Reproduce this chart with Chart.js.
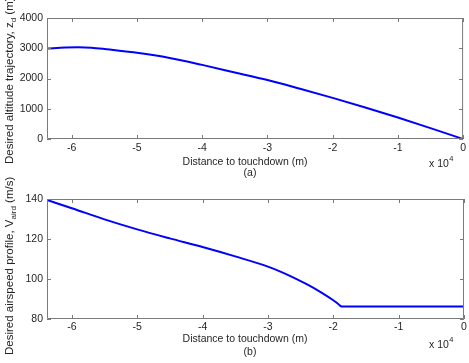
<!DOCTYPE html>
<html>
<head>
<meta charset="utf-8">
<script src="https://cdn.jsdelivr.net/npm/chart.js@4"></script>
<style>
  html, body { margin: 0; padding: 0; background: #fff; }
  #wrap { position: relative; width: 469px; height: 363px; overflow: hidden; }
  canvas { position: absolute; left: 0; }
</style>
</head>
<body>
<div id="wrap">
  <canvas id="c1" width="469" height="181" style="top:0px"></canvas>
  <canvas id="c2" width="469" height="213" style="top:150px"></canvas>
</div>
<script>
// ---- Data ----
// (a) Desired altitude trajectory z_d (m) versus distance to touchdown (m)
const altDistance = [-63800, -61000, -59000, -57000, -55000, -52000, -50000, -45000, -40000, -35000, -30000, -25000, -20000, -15000, -10000, -5000, 0];
const altitude    = [2990, 3025, 3030, 3015, 2975, 2900, 2850, 2680, 2450, 2200, 1950, 1660, 1360, 1040, 710, 360, 0];

// (b) Desired airspeed profile V_aird (m/s) versus distance to touchdown (m)
const spdDistance = [-63800, -60000, -55000, -50000, -45000, -40000, -35000, -30000, -28000, -26000, -24000, -22000, -20000, -19200, -18700, -10000, 0];
const airspeed    = [139.5, 135.4, 129.8, 124.8, 120.3, 116.0, 111.3, 106.2, 103.6, 100.6, 97.3, 93.6, 89.4, 87.4, 86.2, 86.2, 86.2];

// Tick labels
const xTicks = [-60000, -50000, -40000, -30000, -20000, -10000, 0];
const altTicks = [0, 1000, 2000, 3000, 4000];
const spdTicks = [80, 100, 120, 140];

const xTitle = 'Distance to touchdown (m)';
const xExponentBase = 'x 10';
const xExponent = '4';

const FONT = '"Liberation Sans", Arial, Helvetica, sans-serif';
const TXT = '#262626';
const AXC = '#7a7a7a';

function framePlugin(o) {
  return {
    id: 'frame' + o.id,
    afterDraw(chart) {
      const ctx = chart.ctx;
      const a = chart.chartArea;
      const xs = chart.scales.x, ys = chart.scales.y;
      ctx.save();
      // box
      ctx.strokeStyle = AXC;
      ctx.lineWidth = 1;
      ctx.beginPath();
      ctx.rect(a.left + 0.5, a.top + 0.5, a.right - a.left - 1, a.bottom - a.top - 1);
      ctx.stroke();
      // inward ticks on all sides
      const TL = 4;
      ctx.beginPath();
      xs.ticks.forEach(t => {
        const px = Math.round(xs.getPixelForValue(t.value)) + 0.5;
        ctx.moveTo(px, a.bottom); ctx.lineTo(px, a.bottom - TL);
        ctx.moveTo(px, a.top); ctx.lineTo(px, a.top + TL);
      });
      ys.ticks.forEach(t => {
        const py = Math.round(ys.getPixelForValue(t.value)) + 0.5;
        ctx.moveTo(a.left, py); ctx.lineTo(a.left + TL, py);
        ctx.moveTo(a.right, py); ctx.lineTo(a.right - TL, py);
      });
      ctx.stroke();

      // x title and caption
      ctx.fillStyle = TXT;
      ctx.textBaseline = 'middle';
      ctx.textAlign = 'center';
      ctx.font = '10.5px ' + FONT;
      ctx.fillText(xTitle, 245, o.titleY);
      ctx.fillText(o.caption, 250, o.captionY);

      // x 10^4
      ctx.textAlign = 'left';
      ctx.fillText(xExponentBase, 429, o.expY);
      const w = ctx.measureText(xExponentBase).width;
      ctx.font = '7.5px ' + FONT;
      ctx.fillText(xExponent, 429 + w + 0.5, o.expY - 5);

      // y title with subscript (rotated)
      ctx.save();
      ctx.translate(o.yTitleX, o.yTitleStart);
      ctx.rotate(-Math.PI / 2);
      ctx.textBaseline = 'alphabetic';
      ctx.textAlign = 'left';
      let x = 0;
      ctx.font = '11.5px ' + FONT;
      ctx.fillText(o.yMain, x, 0);
      x += ctx.measureText(o.yMain).width;
      ctx.font = '8px ' + FONT;
      ctx.fillText(o.ySub, x, 3);
      x += ctx.measureText(o.ySub).width;
      ctx.font = '11.5px ' + FONT;
      ctx.fillText(o.yTail, x, 0);
      ctx.restore();

      ctx.restore();
    }
  };
}

function makeChart(o) {
  return new Chart(document.getElementById(o.canvas), {
    type: 'line',
    data: {
      datasets: [{
        data: o.xs.map((v, i) => ({ x: v, y: o.ys[i] })),
        borderColor: '#0000ff',
        borderWidth: 2,
        pointRadius: 0,
        fill: false,
        cubicInterpolationMode: 'monotone'
      }]
    },
    options: {
      responsive: false,
      animation: false,
      events: [],
      devicePixelRatio: 1,
      layout: { padding: { top: o.padTop, right: 5, left: 0, bottom: 0 } },
      plugins: { legend: { display: false }, tooltip: { enabled: false }, title: { display: false } },
      scales: {
        x: {
          type: 'linear',
          min: -63800, max: 0,
          grid: { display: false, drawTicks: false },
          border: { display: false },
          afterBuildTicks: s => { s.ticks = xTicks.map(v => ({ value: v })); },
          afterFit: s => { s.height = o.xAxisH; },
          ticks: {
            padding: o.xPad,
            maxRotation: 0,
            autoSkip: false,
            color: TXT,
            font: { family: FONT, size: 10.5 },
            callback: v => String(v / 10000)
          }
        },
        y: {
          type: 'linear',
          min: o.yMin, max: o.yMax,
          grid: { display: false, drawTicks: false },
          border: { display: false },
          afterBuildTicks: s => { s.ticks = o.yTicks.map(v => ({ value: v })); },
          afterFit: s => { s.width = 47; },
          ticks: {
            padding: 4,
            color: TXT,
            font: { family: FONT, size: 10.5 },
            callback: v => String(v)
          }
        }
      }
    },
    plugins: [framePlugin(o)]
  });
}

makeChart({
  id: 'a', canvas: 'c1', xs: altDistance, ys: altitude,
  yMin: 0, yMax: 4000, yTicks: altTicks, padTop: 18, xAxisH: 42, xPad: 3,
  caption: '(a)', titleY: 162.5, captionY: 173.5, expY: 164,
  yTitleX: 13, yTitleStart: 164,
  yMain: 'Desired altitude trajectory, z', ySub: 'd', yTail: ' (m)'
});

makeChart({
  id: 'b', canvas: 'c2', xs: spdDistance, ys: airspeed,
  yMin: 80, yMax: 140, yTicks: spdTicks, padTop: 49, xAxisH: 44, xPad: 2,
  caption: '(b)', titleY: 189.5, captionY: 202.5, expY: 195,
  yTitleX: 13, yTitleStart: 205,
  yMain: 'Desired airspeed profile, V', ySub: 'aird', yTail: ' (m/s)'
});
</script>
</body>
</html>
